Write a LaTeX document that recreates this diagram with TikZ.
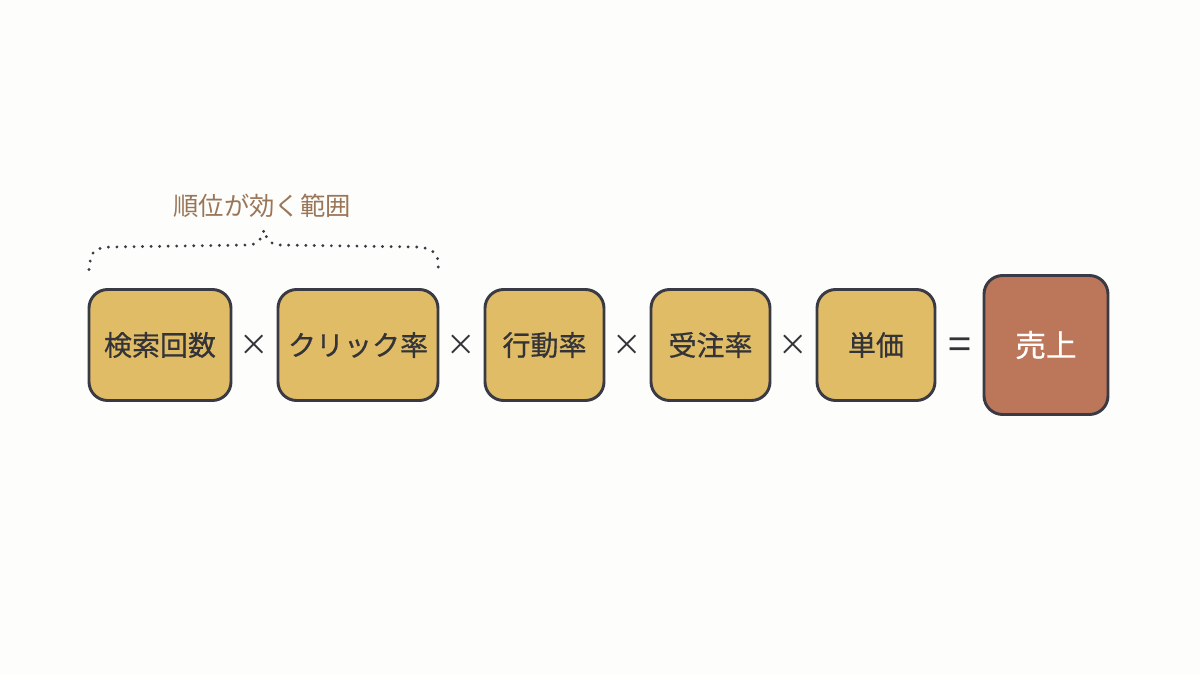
\documentclass[tikz,border=0pt]{standalone}
\usepackage{fontspec}
\setmainfont{Noto Sans CJK JP}
\newfontfamily\boxfont{Noto Sans CJK JP}[FakeBold=0.6]
\usetikzlibrary{positioning}
\definecolor{paper}{HTML}{FDFDFC}
\definecolor{boxfill}{HTML}{DFBC65}
\definecolor{salesfill}{HTML}{BC765A}
\definecolor{edge}{HTML}{3A3A45}
\definecolor{note}{HTML}{9A7658}
\definecolor{ink}{HTML}{333338}

\begin{document}
\begin{tikzpicture}[x=0.75pt, y=-0.75pt,
    factor/.style={draw=edge, fill=boxfill, line width=2.2pt, rounded corners=14pt,
      outer sep=0pt, minimum height=83.25pt, text=ink,
      font=\boxfont\fontsize{21}{25}\selectfont},
    result/.style={factor, fill=salesfill, minimum width=93pt, minimum height=104.25pt,
      text=white, font=\boxfont\fontsize{23}{27}\selectfont},
    op/.style={minimum width=35.25pt, inner sep=0pt, outer sep=0pt, text=ink,
      font=\fontsize{22}{26}\selectfont}]
  \fill[paper] (0,0) rectangle (1200,675);
  \useasboundingbox (0,0) rectangle (1200,675);
  \node (count) [factor, minimum width=106.5pt] at (160,345) {検索回数};
  \node (x1) [op, right=0pt of count] {×};
  \node (ctr) [factor, minimum width=120pt, right=0pt of x1] {クリック率};
  \node (x2) [op, right=0pt of ctr] {×};
  \node (act) [factor, minimum width=89.25pt, right=0pt of x2] {行動率};
  \node (x3) [op, right=0pt of act] {×};
  \node (order) [factor, minimum width=89.25pt, right=0pt of x3] {受注率};
  \node (x4) [op, right=0pt of order] {×};
  \node (price) [factor, minimum width=88.5pt, right=0pt of x4] {単価};
  \node (eq) [op, minimum width=36.75pt, font=\fontsize{31}{31}\selectfont,
    right=0pt of price, yshift=-2.5pt] {=};
  \node (sales) [result, right=0pt of eq, yshift=2.5pt] {売上};
  % dotted brace over the first two factors
  \coordinate (tip) at (264,230);
  \draw[edge, line width=2.4pt, dash pattern=on 0pt off 6.4pt, line cap=round]
    ([yshift=15pt]count.north west) .. controls ++(2,-14) and (90,248) .. (110,247)
    -- (248,245) .. controls (258,245) and (262,238) .. (tip)
    .. controls (266,238) and (270,245) .. (280,245)
    -- (418,247) .. controls (436,248) and (440,258) .. ([yshift=15pt]ctr.north east);
  \node (scope) [text=note, font=\fontsize{19}{23}\selectfont] at (262,206) {順位が効く範囲};
\end{tikzpicture}
\end{document}
